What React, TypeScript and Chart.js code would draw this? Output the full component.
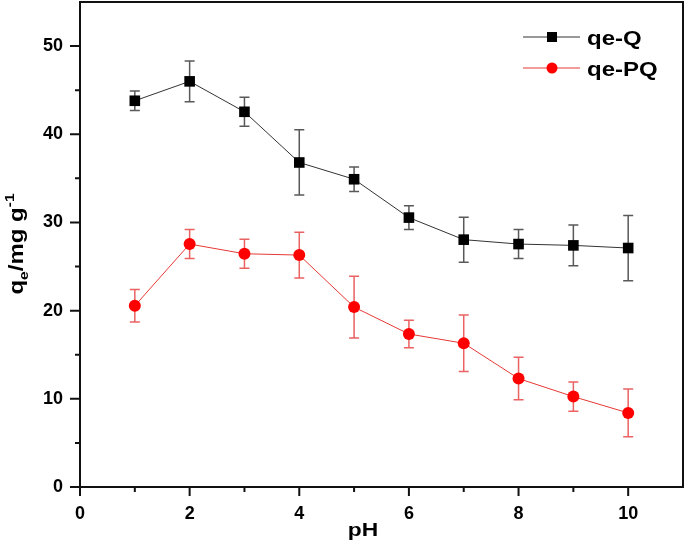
import React, { useEffect, useRef } from "react";
import { Chart, registerables } from "chart.js";

Chart.register(...registerables);

const pH = [1, 2, 3, 4, 5, 6, 7, 8, 9, 10];
const qeQ = [43.8, 46.0, 42.55, 36.8, 34.9, 30.55, 28.05, 27.55, 27.4, 27.1];
const qeQErr = [1.1, 2.3, 1.65, 3.7, 1.4, 1.35, 2.55, 1.65, 2.3, 3.7];
const qePQ = [20.55, 27.55, 26.45, 26.3, 20.4, 17.35, 16.3, 12.3, 10.25, 8.4];
const qePQErr = [1.85, 1.65, 1.65, 2.6, 3.5, 1.55, 3.2, 2.4, 1.65, 2.7];

const xMajorTicks = [0, 2, 4, 6, 8, 10];
const xMinorTicks = [1, 3, 5, 7, 9];
const yMajorTicks = [0, 10, 20, 30, 40, 50];
const yMinorTicks = [5, 15, 25, 35, 45];

const seriesNames = ["qe-Q", "qe-PQ"];
const errors = [qeQErr, qePQErr];

const FONT = "'Liberation Sans', Arial, Helvetica, sans-serif";
const SX = 1.2;

function drawStretched(ctx: CanvasRenderingContext2D, text: string, x: number, y: number, size: number, align: "left" | "center") {
  ctx.save();
  ctx.font = `bold ${size}px ${FONT}`;
  ctx.textBaseline = "alphabetic";
  ctx.textAlign = "left";
  const w = ctx.measureText(text).width * SX;
  const startX = align === "center" ? x - w / 2 : x;
  ctx.translate(startX, y);
  ctx.scale(SX, 1);
  ctx.fillText(text, 0, 0);
  ctx.restore();
}

const errorBarPlugin = {
  id: "errorBars",
  beforeDatasetsDraw(chart: any) {
    const ctx = chart.ctx;
    const xs = chart.scales.x;
    const ys = chart.scales.y;
    const colors = ["rgba(60,60,60,0.85)", "rgba(230,70,70,0.85)"];
    chart.data.datasets.forEach((ds: any, di: number) => {
      ctx.save();
      ctx.strokeStyle = colors[di];
      ctx.lineWidth = 1.5;
      ds.data.forEach((p: any, i: number) => {
        const e = errors[di][i];
        const px = xs.getPixelForValue(p.x);
        const top = ys.getPixelForValue(p.y + e);
        const bot = ys.getPixelForValue(p.y - e);
        ctx.beginPath();
        ctx.moveTo(px, top);
        ctx.lineTo(px, bot);
        ctx.moveTo(px - 5, top);
        ctx.lineTo(px + 5, top);
        ctx.moveTo(px - 5, bot);
        ctx.lineTo(px + 5, bot);
        ctx.stroke();
      });
      ctx.restore();
    });
  },
};

const framePlugin = {
  id: "frame",
  afterDraw(chart: any) {
    const ctx = chart.ctx;
    const { left, right, top, bottom } = chart.chartArea;
    const xs = chart.scales.x;
    const ys = chart.scales.y;
    ctx.save();
    ctx.strokeStyle = "#111";
    ctx.lineWidth = 2;
    ctx.beginPath();
    ctx.rect(left, top, right - left, bottom - top);
    ctx.stroke();
    ctx.beginPath();
    xMajorTicks.forEach((v) => {
      const px = xs.getPixelForValue(v);
      ctx.moveTo(px, bottom);
      ctx.lineTo(px, bottom + 9);
    });
    xMinorTicks.forEach((v) => {
      const px = xs.getPixelForValue(v);
      ctx.moveTo(px, bottom);
      ctx.lineTo(px, bottom + 5);
    });
    yMajorTicks.forEach((v) => {
      const py = ys.getPixelForValue(v);
      ctx.moveTo(left, py);
      ctx.lineTo(left - 10, py);
    });
    yMinorTicks.forEach((v) => {
      const py = ys.getPixelForValue(v);
      ctx.moveTo(left, py);
      ctx.lineTo(left - 5, py);
    });
    ctx.stroke();

    // legend
    const legendY = [37, 68];
    chart.data.datasets.forEach((ds: any, di: number) => {
      const y = legendY[di];
      ctx.strokeStyle = ds.borderColor;
      ctx.lineWidth = 1;
      ctx.beginPath();
      ctx.moveTo(523, y);
      ctx.lineTo(580, y);
      ctx.stroke();
      ctx.fillStyle = ds.pointBackgroundColor;
      if (di === 0) {
        ctx.fillRect(552 - 5, y - 5, 10, 10);
      } else {
        ctx.beginPath();
        ctx.arc(552, y, 5.5, 0, Math.PI * 2);
        ctx.fill();
      }
      ctx.fillStyle = "#000";
      drawStretched(ctx, seriesNames[di], 587, y + 8, 20, "left");
    });

    // x title
    ctx.fillStyle = "#000";
    drawStretched(ctx, "pH", 363, 536, 19, "center");

    // y title with sub/superscripts
    const segs = [
      { t: "q", s: 20, dy: 0 },
      { t: "e", s: 13, dy: 5 },
      { t: "/mg g", s: 20, dy: 0 },
      { t: "-1", s: 13, dy: -9 },
    ];
    let total = 0;
    segs.forEach((sg) => {
      ctx.font = `bold ${sg.s}px ${FONT}`;
      total += ctx.measureText(sg.t).width;
    });
    ctx.save();
    ctx.translate(23, 244);
    ctx.rotate(-Math.PI / 2);
    ctx.scale(SX, 1);
    ctx.textBaseline = "alphabetic";
    ctx.textAlign = "left";
    let cx = -total / 2;
    segs.forEach((sg) => {
      ctx.font = `bold ${sg.s}px ${FONT}`;
      ctx.fillText(sg.t, cx, sg.dy);
      cx += ctx.measureText(sg.t).width;
    });
    ctx.restore();
    ctx.restore();
  },
};

const noMargins = (s: any) => {
  s._handleMargins = () => {};
};

export default function App() {
  const ref = useRef<HTMLCanvasElement>(null);
  useEffect(() => {
    document.body.style.margin = "0";
    const canvas = ref.current!;
    const chart = new Chart(canvas, {
      type: "line",
      data: {
        datasets: [
          {
            label: seriesNames[0],
            data: pH.map((x, i) => ({ x, y: qeQ[i] })),
            borderColor: "#333",
            borderWidth: 1,
            pointStyle: "rect",
            pointRadius: 7.5,
            pointBackgroundColor: "#000",
            pointBorderColor: "#000",
            pointBorderWidth: 0,
          },
          {
            label: seriesNames[1],
            data: pH.map((x, i) => ({ x, y: qePQ[i] })),
            borderColor: "#e53935",
            borderWidth: 1,
            pointStyle: "circle",
            pointRadius: 6,
            pointBackgroundColor: "#ff0000",
            pointBorderColor: "#ff0000",
            pointBorderWidth: 0,
          },
        ],
      },
      options: {
        responsive: false,
        animation: false,
        layout: { autoPadding: false, padding: { top: 2, right: 2, left: 0, bottom: 0 } },
        plugins: { legend: { display: false }, tooltip: { enabled: false } },
        scales: {
          x: {
            type: "linear",
            min: 0,
            max: 11,
            grid: { display: false, drawTicks: false, tickLength: 0 },
            border: { display: false },
            ticks: {
              color: "#000",
              font: { family: FONT, size: 18, weight: "bold" },
              padding: 16,
              maxRotation: 0,
            },
            beforeFit: noMargins,
            afterBuildTicks: (s: any) => {
              s.ticks = xMajorTicks.map((v) => ({ value: v }));
            },
            afterFit: (s: any) => {
              s.height = 59;
              s.paddingLeft = 0;
              s.paddingRight = 0;
              s.paddingTop = 0;
              s.paddingBottom = 0;
            },
          },
          y: {
            type: "linear",
            min: 0,
            max: 55,
            grid: { display: false, drawTicks: false, tickLength: 0 },
            border: { display: false },
            ticks: {
              color: "#000",
              font: { family: FONT, size: 18, weight: "bold" },
              padding: 17,
            },
            beforeFit: noMargins,
            afterBuildTicks: (s: any) => {
              s.ticks = yMajorTicks.map((v) => ({ value: v }));
            },
            afterFit: (s: any) => {
              s.width = 80;
              s.paddingTop = 0;
              s.paddingBottom = 0;
              s.paddingLeft = 0;
              s.paddingRight = 0;
            },
          },
        },
      },
      plugins: [errorBarPlugin, framePlugin],
    });
    return () => chart.destroy();
  }, []);
  return (
    <div style={{ position: "fixed", left: 0, top: 0, width: 685, height: 546, background: "#fff" }}>
      <canvas ref={ref} width={685} height={546} />
    </div>
  );
}
